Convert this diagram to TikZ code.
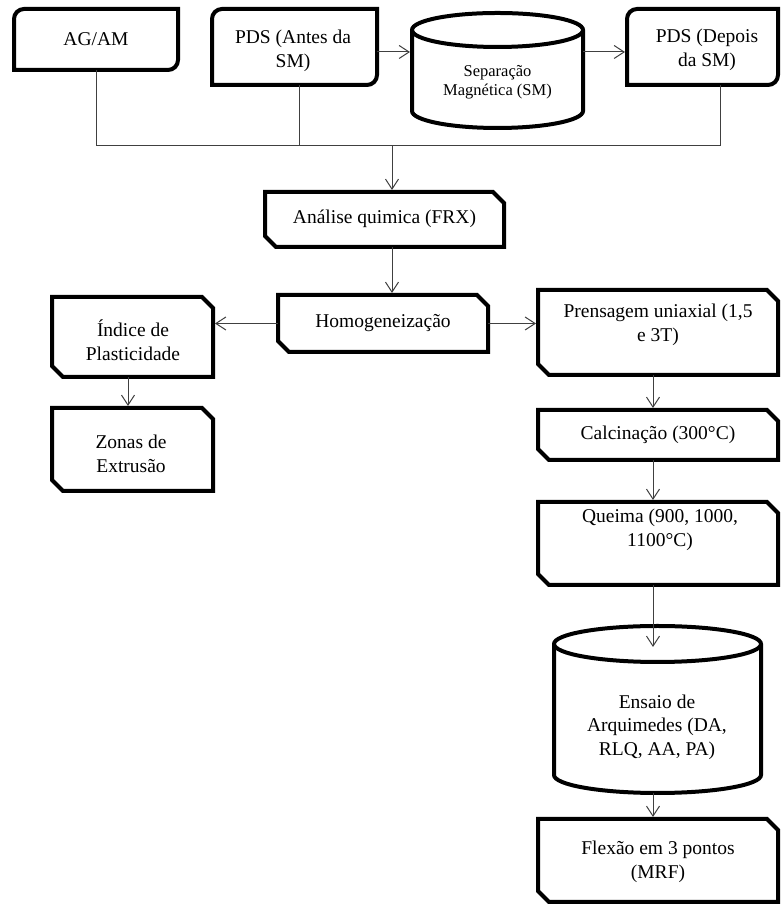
\documentclass[tikz,border=0pt]{standalone}
\usepackage{fontspec}
\setmainfont{Liberation Serif}
\usetikzlibrary{arrows.meta}
\tikzset{
 boxshape/.style={rectangle, draw=none, inner sep=0pt, outer sep=0pt},
 boxline/.style={line width=4pt, line join=miter, draw=black},
 conn/.style={line width=1pt, draw=black!75},
 arr/.style={conn, -{Straight Barb[length=10pt, width=13pt]}, shorten >=2pt},
 lbl/.style={font=\fontsize{19.5}{23.5}\selectfont, align=center, inner sep=0pt},
 smalllbl/.style={font=\fontsize{16.5}{19}\selectfont, align=center, inner sep=0pt},
}
\newcommand\ChamBox[5]{%
 \node[boxshape, minimum width=#4pt, minimum height=#5pt] (#1) at (#2,#3) {};
 \draw[boxline] (#1.north west) -- ([xshift=-11pt]#1.north east) -- ([yshift=-11pt]#1.north east) -- (#1.south east) -- ([xshift=11pt]#1.south west) -- ([yshift=11pt]#1.south west) -- cycle;}
\newcommand\RoundBox[5]{%
 \node[boxshape, minimum width=#4pt, minimum height=#5pt] (#1) at (#2,#3) {};
 \draw[boxline] ([xshift=10pt]#1.north west) -- (#1.north east) -- ([yshift=10pt]#1.south east) arc[start angle=0, end angle=-90, radius=10pt] -- (#1.south west) -- ([yshift=-10pt]#1.north west) arc[start angle=180, end angle=90, radius=10pt] -- cycle;}
\newcommand\CylBox[6]{%
 \node[boxshape, minimum width=#4pt, minimum height=#5pt] (#1) at (#2,#3) {};
 \draw[boxline] ([yshift=-#6pt]#1.north west) -- ([yshift=#6pt]#1.south west) arc[start angle=180, end angle=360, x radius=#4pt/2, y radius=#6pt] -- ([yshift=-#6pt]#1.north east) arc[start angle=0, end angle=180, x radius=#4pt/2, y radius=#6pt] -- cycle;
 \draw[boxline] ([yshift=-#6pt]#1.north west) arc[start angle=180, end angle=360, x radius=#4pt/2, y radius=#6pt];}
\begin{document}
\begin{tikzpicture}[x=1pt, y=1pt]
\fill[white] (0,0) rectangle (781,904);
\useasboundingbox (0,0) rectangle (781,904);

% boxes
\RoundBox{ag}{96}{864.5}{164}{61}
\RoundBox{pdsa}{294.5}{857}{165}{76}
\CylBox{sm}{497.5}{833.5}{171}{115}{17}
\RoundBox{pdsd}{702.5}{857}{151}{76}
\ChamBox{ana}{384.5}{684.5}{239}{55}
\ChamBox{hom}{383}{580.5}{210}{57}
\ChamBox{ind}{132.5}{567}{161}{80}
\ChamBox{zon}{132.5}{454.5}{161}{83}
\ChamBox{pre}{658}{571.5}{240}{85}
\ChamBox{cal}{658}{469}{240}{50}
\ChamBox{que}{658}{360.5}{240}{83}
\CylBox{ens}{657.5}{194.5}{207}{167}{18}
\ChamBox{fle}{658}{43.5}{240}{83}

% labels
\node[lbl] (ag-t) at (96,864.5) {AG/AM};
\node[lbl] (pdsa-t) at (293,853) {PDS (Antes da\\SM)};
\node[smalllbl] (sm-t) at (497.5,822) {Separação\\Magnética (SM)};
\node[lbl] (pdsd-t) at (707,854) {PDS (Depois\\da SM)};
\node[lbl] (ana-t) at (384.5,685) {Análise quimica (FRX)};
\node[lbl] (hom-t) at (383,581) {Homogeneização};
\node[lbl] (ind-t) at (133,564) {Índice de\\Plasticidade};
\node[lbl] (zon-t) at (131,450) {Zonas de\\Extrusão};
\node[lbl] (pre-t) at (658,579) {Prensagem uniaxial (1,5\\e 3T)};
\node[lbl] (cal-t) at (658,469) {Calcinação (300°C)};
\node[lbl] (que-t) at (660,374) {Queima (900, 1000,\\1100°C)};
\node[lbl] (ens-t) at (657,177) {Ensaio de\\Arquimedes (DA,\\RLQ, AA, PA)};
\node[lbl] (fle-t) at (658,42) {Flexão em 3 pontos\\(MRF)};

% helper coordinates
\coordinate (yA) at (0,852);
\coordinate (yH) at (0,758);
\coordinate (xAnt) at (299,0);
\coordinate (xDep) at (720,0);
\coordinate (xM) at (392,0);
\coordinate (xL) at (128,0);
\coordinate (xR) at (653,0);
\coordinate (ensin) at (653,257);

% connectors
\draw[conn] (ag.south) |- (xDep |- yH) -- (pdsd.south -| xDep);
\draw[conn] (pdsa.south -| xAnt) -- (xAnt |- yH);
\draw[arr] (xM |- yH) -- (ana.north -| xM);
\draw[arr] (pdsa.east |- yA) -- (sm.west |- yA);
\draw[arr] (sm.east |- yA) -- (pdsd.west |- yA);
\draw[arr] (ana.south -| xM) -- (hom.north -| xM);
\draw[arr] (hom.west) -- (ind.east |- hom.west);
\draw[arr] (hom.east) -- (pre.west |- hom.east);
\draw[arr] (ind.south -| xL) -- (zon.north -| xL);
\draw[arr] (pre.south -| xR) -- (cal.north -| xR);
\draw[arr] (cal.south -| xR) -- (que.north -| xR);
\draw[arr, shorten >=0pt] (que.south -| xR) -- (ensin);
\draw[arr] (ens.south -| xR) -- (fle.north -| xR);
\end{tikzpicture}
\end{document}
